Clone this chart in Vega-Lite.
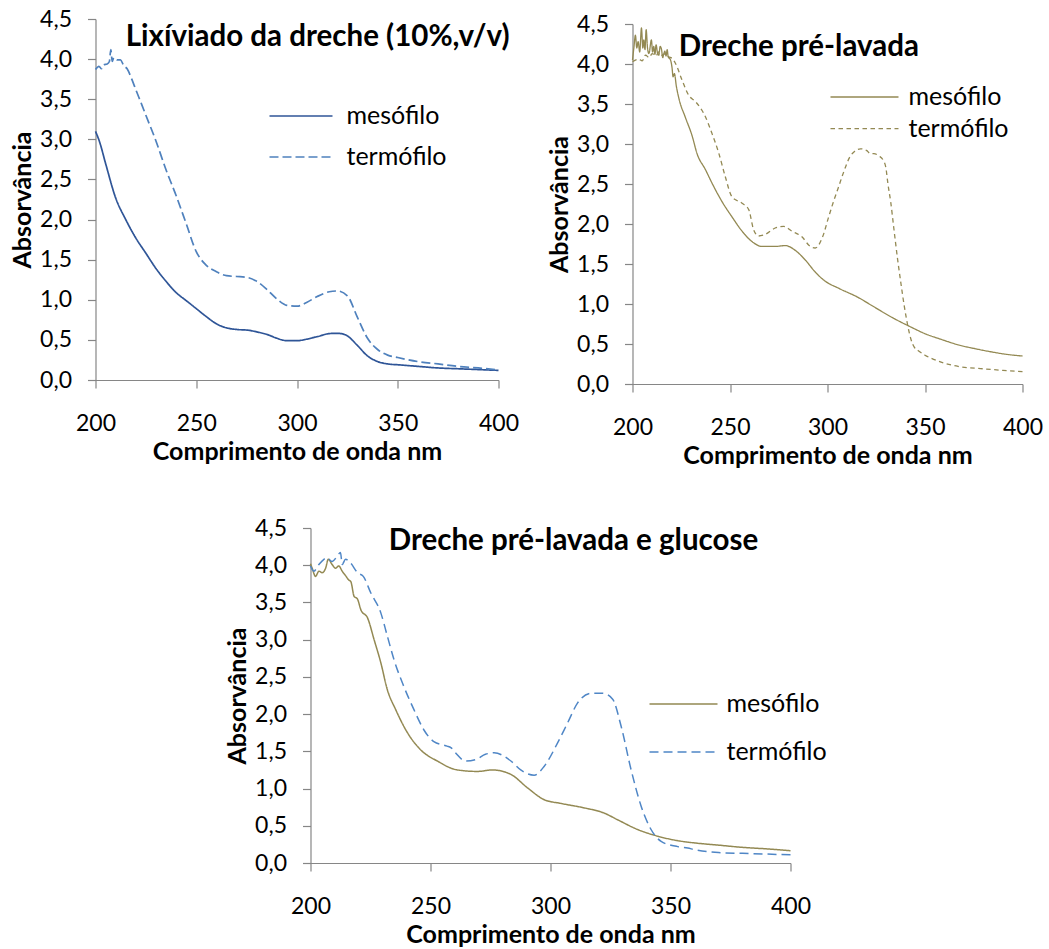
{
  "$schema": "https://vega.github.io/schema/vega-lite/v6.json",
  "background": "white",
  "padding": {"left": 10, "top": 8, "right": 5, "bottom": 0},
  "config": {
    "locale": {"number": {"decimal": ",", "thousands": ".", "grouping": [3], "currency": ["", " €"]}},
    "font": "Lato",
    "view": {"stroke": null},
    "axis": {
      "grid": false,
      "domainColor": "#868686",
      "domainWidth": 1.2,
      "tickColor": "#868686",
      "tickWidth": 1.2,
      "tickSize": 8,
      "labelFont": "Lato",
      "labelFontSize": 23,
      "labelColor": "#000000",
      "labelFlush": false,
      "labelOverlap": false,
      "titleFont": "Lato",
      "titleFontWeight": "bold",
      "titleFontSize": 25,
      "titleColor": "#000000"
    },
    "axisX": {"labelPadding": 24, "titlePadding": 4},
    "axisY": {"labelPadding": 16, "titlePadding": 4},
    "legend": {
      "orient": "none",
      "symbolType": "stroke",
      "labelFont": "Lato",
      "labelFontSize": 25,
      "labelColor": "#000000",
      "title": null,
      "padding": 0,
      "clipHeight": 30
    }
  },
  "datasets": {
    "lixiviado": [
      {"nm": 200, "serie": "mesófilo", "abs": 3.10},
      {"nm": 202, "serie": "mesófilo", "abs": 2.97},
      {"nm": 205, "serie": "mesófilo", "abs": 2.70},
      {"nm": 210, "serie": "mesófilo", "abs": 2.27},
      {"nm": 215, "serie": "mesófilo", "abs": 2.00},
      {"nm": 220, "serie": "mesófilo", "abs": 1.77},
      {"nm": 225, "serie": "mesófilo", "abs": 1.58},
      {"nm": 230, "serie": "mesófilo", "abs": 1.39},
      {"nm": 235, "serie": "mesófilo", "abs": 1.23},
      {"nm": 240, "serie": "mesófilo", "abs": 1.09},
      {"nm": 245, "serie": "mesófilo", "abs": 0.99},
      {"nm": 250, "serie": "mesófilo", "abs": 0.89},
      {"nm": 255, "serie": "mesófilo", "abs": 0.79},
      {"nm": 260, "serie": "mesófilo", "abs": 0.70},
      {"nm": 265, "serie": "mesófilo", "abs": 0.65},
      {"nm": 270, "serie": "mesófilo", "abs": 0.63},
      {"nm": 276, "serie": "mesófilo", "abs": 0.62},
      {"nm": 280, "serie": "mesófilo", "abs": 0.60},
      {"nm": 286, "serie": "mesófilo", "abs": 0.56},
      {"nm": 290, "serie": "mesófilo", "abs": 0.52},
      {"nm": 295, "serie": "mesófilo", "abs": 0.49},
      {"nm": 300, "serie": "mesófilo", "abs": 0.49},
      {"nm": 305, "serie": "mesófilo", "abs": 0.51},
      {"nm": 310, "serie": "mesófilo", "abs": 0.54},
      {"nm": 317, "serie": "mesófilo", "abs": 0.58},
      {"nm": 321, "serie": "mesófilo", "abs": 0.58},
      {"nm": 325, "serie": "mesófilo", "abs": 0.55},
      {"nm": 330, "serie": "mesófilo", "abs": 0.43},
      {"nm": 335, "serie": "mesófilo", "abs": 0.30},
      {"nm": 340, "serie": "mesófilo", "abs": 0.23},
      {"nm": 345, "serie": "mesófilo", "abs": 0.20},
      {"nm": 350, "serie": "mesófilo", "abs": 0.19},
      {"nm": 360, "serie": "mesófilo", "abs": 0.17},
      {"nm": 370, "serie": "mesófilo", "abs": 0.15},
      {"nm": 380, "serie": "mesófilo", "abs": 0.14},
      {"nm": 390, "serie": "mesófilo", "abs": 0.13},
      {"nm": 400, "serie": "mesófilo", "abs": 0.12},
      {"nm": 200, "serie": "termófilo", "abs": 3.87},
      {"nm": 201.7, "serie": "termófilo", "abs": 3.91},
      {"nm": 203, "serie": "termófilo", "abs": 3.88},
      {"nm": 204.1, "serie": "termófilo", "abs": 3.93},
      {"nm": 205.8, "serie": "termófilo", "abs": 3.94},
      {"nm": 206.9, "serie": "termófilo", "abs": 3.97},
      {"nm": 207.6, "serie": "termófilo", "abs": 4.12},
      {"nm": 208.3, "serie": "termófilo", "abs": 3.97},
      {"nm": 209.1, "serie": "termófilo", "abs": 4.02},
      {"nm": 210.7, "serie": "termófilo", "abs": 3.99},
      {"nm": 212.4, "serie": "termófilo", "abs": 3.99},
      {"nm": 214, "serie": "termófilo", "abs": 3.92},
      {"nm": 215.7, "serie": "termófilo", "abs": 3.88},
      {"nm": 218, "serie": "termófilo", "abs": 3.75},
      {"nm": 220, "serie": "termófilo", "abs": 3.62},
      {"nm": 223, "serie": "termófilo", "abs": 3.43},
      {"nm": 225, "serie": "termófilo", "abs": 3.30},
      {"nm": 230, "serie": "termófilo", "abs": 2.98},
      {"nm": 235, "serie": "termófilo", "abs": 2.62},
      {"nm": 240, "serie": "termófilo", "abs": 2.30},
      {"nm": 245, "serie": "termófilo", "abs": 1.95},
      {"nm": 250, "serie": "termófilo", "abs": 1.60},
      {"nm": 255, "serie": "termófilo", "abs": 1.43},
      {"nm": 260, "serie": "termófilo", "abs": 1.35},
      {"nm": 265, "serie": "termófilo", "abs": 1.30},
      {"nm": 270, "serie": "termófilo", "abs": 1.29},
      {"nm": 275, "serie": "termófilo", "abs": 1.28},
      {"nm": 280, "serie": "termófilo", "abs": 1.23},
      {"nm": 285, "serie": "termófilo", "abs": 1.13},
      {"nm": 290, "serie": "termófilo", "abs": 1.01},
      {"nm": 295, "serie": "termófilo", "abs": 0.93},
      {"nm": 300, "serie": "termófilo", "abs": 0.92},
      {"nm": 305, "serie": "termófilo", "abs": 0.97},
      {"nm": 310, "serie": "termófilo", "abs": 1.04},
      {"nm": 316, "serie": "termófilo", "abs": 1.10},
      {"nm": 320, "serie": "termófilo", "abs": 1.11},
      {"nm": 325, "serie": "termófilo", "abs": 1.05},
      {"nm": 330, "serie": "termófilo", "abs": 0.78},
      {"nm": 335, "serie": "termófilo", "abs": 0.52},
      {"nm": 340, "serie": "termófilo", "abs": 0.38},
      {"nm": 345, "serie": "termófilo", "abs": 0.31},
      {"nm": 350, "serie": "termófilo", "abs": 0.28},
      {"nm": 360, "serie": "termófilo", "abs": 0.23},
      {"nm": 370, "serie": "termófilo", "abs": 0.20},
      {"nm": 380, "serie": "termófilo", "abs": 0.17},
      {"nm": 390, "serie": "termófilo", "abs": 0.15},
      {"nm": 400, "serie": "termófilo", "abs": 0.125}
    ],
    "prelavada": [
      {"nm": 200, "serie": "mesófilo", "abs": 4.05},
      {"nm": 200.7, "serie": "mesófilo", "abs": 4.20},
      {"nm": 201.5, "serie": "mesófilo", "abs": 4.36},
      {"nm": 202.2, "serie": "mesófilo", "abs": 4.20},
      {"nm": 202.9, "serie": "mesófilo", "abs": 4.28},
      {"nm": 203.7, "serie": "mesófilo", "abs": 4.15},
      {"nm": 204.6, "serie": "mesófilo", "abs": 4.45},
      {"nm": 205.3, "serie": "mesófilo", "abs": 4.20},
      {"nm": 205.8, "serie": "mesófilo", "abs": 4.30},
      {"nm": 206.4, "serie": "mesófilo", "abs": 4.18},
      {"nm": 207, "serie": "mesófilo", "abs": 4.43},
      {"nm": 207.7, "serie": "mesófilo", "abs": 4.20},
      {"nm": 208.4, "serie": "mesófilo", "abs": 4.13},
      {"nm": 209.7, "serie": "mesófilo", "abs": 4.30},
      {"nm": 210.3, "serie": "mesófilo", "abs": 4.15},
      {"nm": 210.9, "serie": "mesófilo", "abs": 4.22},
      {"nm": 211.5, "serie": "mesófilo", "abs": 4.12},
      {"nm": 212.1, "serie": "mesófilo", "abs": 4.24},
      {"nm": 212.8, "serie": "mesófilo", "abs": 4.14},
      {"nm": 213.5, "serie": "mesófilo", "abs": 4.11},
      {"nm": 214.2, "serie": "mesófilo", "abs": 4.22},
      {"nm": 214.9, "serie": "mesófilo", "abs": 4.18},
      {"nm": 215.5, "serie": "mesófilo", "abs": 4.08},
      {"nm": 216, "serie": "mesófilo", "abs": 4.12},
      {"nm": 216.6, "serie": "mesófilo", "abs": 4.16},
      {"nm": 217.2, "serie": "mesófilo", "abs": 4.10},
      {"nm": 217.8, "serie": "mesófilo", "abs": 4.18},
      {"nm": 218.3, "serie": "mesófilo", "abs": 4.09},
      {"nm": 219.5, "serie": "mesófilo", "abs": 4.05},
      {"nm": 220.3, "serie": "mesófilo", "abs": 3.95},
      {"nm": 220.8, "serie": "mesófilo", "abs": 3.84},
      {"nm": 221.5, "serie": "mesófilo", "abs": 3.88},
      {"nm": 222.5, "serie": "mesófilo", "abs": 3.72},
      {"nm": 224, "serie": "mesófilo", "abs": 3.55},
      {"nm": 227, "serie": "mesófilo", "abs": 3.34},
      {"nm": 230.6, "serie": "mesófilo", "abs": 3.10},
      {"nm": 233.1, "serie": "mesófilo", "abs": 2.88},
      {"nm": 237.4, "serie": "mesófilo", "abs": 2.68},
      {"nm": 240.8, "serie": "mesófilo", "abs": 2.51},
      {"nm": 245.9, "serie": "mesófilo", "abs": 2.28},
      {"nm": 251, "serie": "mesófilo", "abs": 2.09},
      {"nm": 256.2, "serie": "mesófilo", "abs": 1.91},
      {"nm": 261.3, "serie": "mesófilo", "abs": 1.78},
      {"nm": 266.4, "serie": "mesófilo", "abs": 1.72},
      {"nm": 273.2, "serie": "mesófilo", "abs": 1.72},
      {"nm": 278.3, "serie": "mesófilo", "abs": 1.73},
      {"nm": 283.5, "serie": "mesófilo", "abs": 1.67},
      {"nm": 288.6, "serie": "mesófilo", "abs": 1.55},
      {"nm": 293.7, "serie": "mesófilo", "abs": 1.40},
      {"nm": 298, "serie": "mesófilo", "abs": 1.30},
      {"nm": 306.3, "serie": "mesófilo", "abs": 1.19},
      {"nm": 315.1, "serie": "mesófilo", "abs": 1.09},
      {"nm": 323.8, "serie": "mesófilo", "abs": 0.965},
      {"nm": 332.5, "serie": "mesófilo", "abs": 0.84},
      {"nm": 342.5, "serie": "mesófilo", "abs": 0.715},
      {"nm": 349.9, "serie": "mesófilo", "abs": 0.63},
      {"nm": 358, "serie": "mesófilo", "abs": 0.56},
      {"nm": 367, "serie": "mesófilo", "abs": 0.49},
      {"nm": 376, "serie": "mesófilo", "abs": 0.44},
      {"nm": 384.4, "serie": "mesófilo", "abs": 0.40},
      {"nm": 392, "serie": "mesófilo", "abs": 0.37},
      {"nm": 400, "serie": "mesófilo", "abs": 0.35},
      {"nm": 200, "serie": "termófilo", "abs": 4.03},
      {"nm": 203.2, "serie": "termófilo", "abs": 4.06},
      {"nm": 205, "serie": "termófilo", "abs": 4.04},
      {"nm": 206.7, "serie": "termófilo", "abs": 4.11},
      {"nm": 208.5, "serie": "termófilo", "abs": 4.08},
      {"nm": 210.1, "serie": "termófilo", "abs": 4.13},
      {"nm": 212, "serie": "termófilo", "abs": 4.10},
      {"nm": 213.5, "serie": "termófilo", "abs": 4.15},
      {"nm": 215, "serie": "termófilo", "abs": 4.11},
      {"nm": 216.9, "serie": "termófilo", "abs": 4.13},
      {"nm": 218.5, "serie": "termófilo", "abs": 4.09},
      {"nm": 220.3, "serie": "termófilo", "abs": 4.07},
      {"nm": 222, "serie": "termófilo", "abs": 4.01},
      {"nm": 225.4, "serie": "termófilo", "abs": 3.80},
      {"nm": 228.8, "serie": "termófilo", "abs": 3.61},
      {"nm": 232.3, "serie": "termófilo", "abs": 3.53},
      {"nm": 237.4, "serie": "termófilo", "abs": 3.34},
      {"nm": 240.8, "serie": "termófilo", "abs": 3.13},
      {"nm": 244.2, "serie": "termófilo", "abs": 2.89},
      {"nm": 247.6, "serie": "termófilo", "abs": 2.59},
      {"nm": 251, "serie": "termófilo", "abs": 2.34},
      {"nm": 256.2, "serie": "termófilo", "abs": 2.26},
      {"nm": 259.6, "serie": "termófilo", "abs": 2.18},
      {"nm": 262.1, "serie": "termófilo", "abs": 1.93},
      {"nm": 264.7, "serie": "termófilo", "abs": 1.85},
      {"nm": 268.1, "serie": "termófilo", "abs": 1.87},
      {"nm": 273.2, "serie": "termófilo", "abs": 1.95},
      {"nm": 277.5, "serie": "termófilo", "abs": 1.97},
      {"nm": 281.8, "serie": "termófilo", "abs": 1.91},
      {"nm": 286.9, "serie": "termófilo", "abs": 1.84},
      {"nm": 291.1, "serie": "termófilo", "abs": 1.72},
      {"nm": 293.7, "serie": "termófilo", "abs": 1.70},
      {"nm": 297.5, "serie": "termófilo", "abs": 1.84},
      {"nm": 300.5, "serie": "termófilo", "abs": 2.08},
      {"nm": 302.8, "serie": "termófilo", "abs": 2.26},
      {"nm": 305.5, "serie": "termófilo", "abs": 2.45},
      {"nm": 308, "serie": "termófilo", "abs": 2.63},
      {"nm": 311.5, "serie": "termófilo", "abs": 2.84},
      {"nm": 314, "serie": "termófilo", "abs": 2.91},
      {"nm": 316.9, "serie": "termófilo", "abs": 2.94},
      {"nm": 320, "serie": "termófilo", "abs": 2.92},
      {"nm": 322, "serie": "termófilo", "abs": 2.88},
      {"nm": 323.8, "serie": "termófilo", "abs": 2.88},
      {"nm": 326.4, "serie": "termófilo", "abs": 2.85},
      {"nm": 328.5, "serie": "termófilo", "abs": 2.80},
      {"nm": 329.9, "serie": "termófilo", "abs": 2.71},
      {"nm": 331, "serie": "termófilo", "abs": 2.50},
      {"nm": 332.5, "serie": "termófilo", "abs": 2.26},
      {"nm": 334, "serie": "termófilo", "abs": 1.95},
      {"nm": 336, "serie": "termófilo", "abs": 1.55},
      {"nm": 337.7, "serie": "termófilo", "abs": 1.25},
      {"nm": 339.4, "serie": "termófilo", "abs": 0.97},
      {"nm": 341, "serie": "termófilo", "abs": 0.75},
      {"nm": 342.9, "serie": "termófilo", "abs": 0.55},
      {"nm": 344.5, "serie": "termófilo", "abs": 0.46},
      {"nm": 346.4, "serie": "termófilo", "abs": 0.42},
      {"nm": 350, "serie": "termófilo", "abs": 0.36},
      {"nm": 353.3, "serie": "termófilo", "abs": 0.32},
      {"nm": 360, "serie": "termófilo", "abs": 0.26},
      {"nm": 367, "serie": "termófilo", "abs": 0.22},
      {"nm": 380, "serie": "termófilo", "abs": 0.19},
      {"nm": 390, "serie": "termófilo", "abs": 0.17},
      {"nm": 400, "serie": "termófilo", "abs": 0.155}
    ],
    "glucose": [
      {"nm": 200, "serie": "mesófilo", "abs": 4.02},
      {"nm": 200.7, "serie": "mesófilo", "abs": 3.96},
      {"nm": 202.1, "serie": "mesófilo", "abs": 3.85},
      {"nm": 203.5, "serie": "mesófilo", "abs": 3.92},
      {"nm": 204.9, "serie": "mesófilo", "abs": 3.90},
      {"nm": 206.3, "serie": "mesófilo", "abs": 3.96},
      {"nm": 207.4, "serie": "mesófilo", "abs": 4.08},
      {"nm": 209, "serie": "mesófilo", "abs": 4.01},
      {"nm": 210.4, "serie": "mesófilo", "abs": 3.96},
      {"nm": 211.8, "serie": "mesófilo", "abs": 3.99},
      {"nm": 213.2, "serie": "mesófilo", "abs": 3.92},
      {"nm": 214.6, "serie": "mesófilo", "abs": 3.86},
      {"nm": 216, "serie": "mesófilo", "abs": 3.80},
      {"nm": 216.8, "serie": "mesófilo", "abs": 3.78},
      {"nm": 218.2, "serie": "mesófilo", "abs": 3.58},
      {"nm": 219.5, "serie": "mesófilo", "abs": 3.55},
      {"nm": 221, "serie": "mesófilo", "abs": 3.40},
      {"nm": 223.8, "serie": "mesófilo", "abs": 3.29},
      {"nm": 226.5, "serie": "mesófilo", "abs": 3.00},
      {"nm": 229.3, "serie": "mesófilo", "abs": 2.69},
      {"nm": 232, "serie": "mesófilo", "abs": 2.33},
      {"nm": 235.5, "serie": "mesófilo", "abs": 2.06},
      {"nm": 240.4, "serie": "mesófilo", "abs": 1.75},
      {"nm": 245.9, "serie": "mesófilo", "abs": 1.52},
      {"nm": 252.8, "serie": "mesófilo", "abs": 1.37},
      {"nm": 261.2, "serie": "mesófilo", "abs": 1.25},
      {"nm": 269.6, "serie": "mesófilo", "abs": 1.23},
      {"nm": 275.8, "serie": "mesófilo", "abs": 1.25},
      {"nm": 283.5, "serie": "mesófilo", "abs": 1.19},
      {"nm": 290.4, "serie": "mesófilo", "abs": 1.01},
      {"nm": 297.4, "serie": "mesófilo", "abs": 0.85},
      {"nm": 304.4, "serie": "mesófilo", "abs": 0.80},
      {"nm": 314.1, "serie": "mesófilo", "abs": 0.74},
      {"nm": 322.4, "serie": "mesófilo", "abs": 0.67},
      {"nm": 328, "serie": "mesófilo", "abs": 0.58},
      {"nm": 336.3, "serie": "mesófilo", "abs": 0.45},
      {"nm": 344.7, "serie": "mesófilo", "abs": 0.36},
      {"nm": 353, "serie": "mesófilo", "abs": 0.30},
      {"nm": 360, "serie": "mesófilo", "abs": 0.27},
      {"nm": 370, "serie": "mesófilo", "abs": 0.24},
      {"nm": 380, "serie": "mesófilo", "abs": 0.21},
      {"nm": 390, "serie": "mesófilo", "abs": 0.19},
      {"nm": 400, "serie": "mesófilo", "abs": 0.165},
      {"nm": 200, "serie": "termófilo", "abs": 3.99},
      {"nm": 201.4, "serie": "termófilo", "abs": 3.92},
      {"nm": 203.5, "serie": "termófilo", "abs": 4.01},
      {"nm": 205.6, "serie": "termófilo", "abs": 4.08},
      {"nm": 206.9, "serie": "termófilo", "abs": 4.10},
      {"nm": 209, "serie": "termófilo", "abs": 4.05},
      {"nm": 211.1, "serie": "termófilo", "abs": 4.12},
      {"nm": 212.5, "serie": "termófilo", "abs": 4.17},
      {"nm": 213.2, "serie": "termófilo", "abs": 4.01},
      {"nm": 214.6, "serie": "termófilo", "abs": 4.08},
      {"nm": 216.7, "serie": "termófilo", "abs": 4.03},
      {"nm": 219.6, "serie": "termófilo", "abs": 3.90},
      {"nm": 222, "serie": "termófilo", "abs": 3.85},
      {"nm": 225.1, "serie": "termófilo", "abs": 3.63},
      {"nm": 229.3, "serie": "termófilo", "abs": 3.36},
      {"nm": 232, "serie": "termófilo", "abs": 3.05},
      {"nm": 234.8, "serie": "termófilo", "abs": 2.73},
      {"nm": 238.9, "serie": "termófilo", "abs": 2.37},
      {"nm": 243.1, "serie": "termófilo", "abs": 2.06},
      {"nm": 247.2, "serie": "termófilo", "abs": 1.79},
      {"nm": 251.4, "serie": "termófilo", "abs": 1.63},
      {"nm": 256.9, "serie": "termófilo", "abs": 1.57},
      {"nm": 258.5, "serie": "termófilo", "abs": 1.55},
      {"nm": 260.4, "serie": "termófilo", "abs": 1.48},
      {"nm": 264.6, "serie": "termófilo", "abs": 1.37},
      {"nm": 268.8, "serie": "termófilo", "abs": 1.39},
      {"nm": 272.9, "serie": "termófilo", "abs": 1.46},
      {"nm": 276.5, "serie": "termófilo", "abs": 1.48},
      {"nm": 283.5, "serie": "termófilo", "abs": 1.37},
      {"nm": 287.6, "serie": "termófilo", "abs": 1.25},
      {"nm": 293.2, "serie": "termófilo", "abs": 1.18},
      {"nm": 297.4, "serie": "termófilo", "abs": 1.30},
      {"nm": 302.9, "serie": "termófilo", "abs": 1.61},
      {"nm": 307.1, "serie": "termófilo", "abs": 1.88},
      {"nm": 311.3, "serie": "termófilo", "abs": 2.15},
      {"nm": 316.9, "serie": "termófilo", "abs": 2.28},
      {"nm": 321.7, "serie": "termófilo", "abs": 2.28},
      {"nm": 325.9, "serie": "termófilo", "abs": 2.20},
      {"nm": 329.4, "serie": "termófilo", "abs": 1.84},
      {"nm": 333.6, "serie": "termófilo", "abs": 1.25},
      {"nm": 337.8, "serie": "termófilo", "abs": 0.76},
      {"nm": 341.9, "serie": "termófilo", "abs": 0.45},
      {"nm": 346.1, "serie": "termófilo", "abs": 0.29},
      {"nm": 353, "serie": "termófilo", "abs": 0.22},
      {"nm": 357.2, "serie": "termófilo", "abs": 0.20},
      {"nm": 360, "serie": "termófilo", "abs": 0.18},
      {"nm": 370, "serie": "termófilo", "abs": 0.14},
      {"nm": 380, "serie": "termófilo", "abs": 0.13},
      {"nm": 390, "serie": "termófilo", "abs": 0.12},
      {"nm": 400, "serie": "termófilo", "abs": 0.11}
    ]
  },
  "spacing": 49,
  "center": true,
  "resolve": {
    "scale": {"color": "independent", "strokeDash": "independent"},
    "legend": {"color": "independent", "strokeDash": "independent"}
  },
  "vconcat": [
    {
      "spacing": 28,
      "resolve": {
        "scale": {"color": "independent", "strokeDash": "independent"},
        "legend": {"color": "independent", "strokeDash": "independent"}
      },
      "hconcat": [
        {
          "width": 403,
          "height": 361,
          "layer": [
            {
              "data": {"name": "lixiviado"},
              "mark": {"type": "line", "strokeWidth": 1.7, "interpolate": "monotone"},
              "encoding": {
                "x": {"field": "nm", "type": "quantitative", "scale": {"domain": [200, 400], "nice": false, "zero": false}, "axis": {"values": [200, 250, 300, 350, 400], "title": "Comprimento de onda nm"}},
                "y": {"field": "abs", "type": "quantitative", "scale": {"domain": [0, 4.5], "nice": false}, "axis": {"values": [0, 0.5, 1, 1.5, 2, 2.5, 3, 3.5, 4, 4.5], "format": ".1f", "title": "Absorvância"}},
                "color": {"field": "serie", "type": "nominal", "scale": {"domain": ["mesófilo", "termófilo"], "range": ["#2F5597", "#4F81BD"]}, "legend": {"legendX": 173, "legendY": 82, "symbolSize": 3969, "symbolStrokeWidth": 1.7, "labelOffset": 13, "rowPadding": 11}},
                "strokeDash": {"field": "serie", "type": "nominal", "scale": {"domain": ["mesófilo", "termófilo"], "range": [[1, 0], [9, 4]]}}
              }
            },
            {
              "data": {"values": [{"titulo": "Lixíviado da dreche (10%,v/v)"}]},
              "mark": {"type": "text", "align": "left", "baseline": "alphabetic", "fontSize": 29.5, "fontWeight": "bold", "color": "#000000"},
              "encoding": {
                "x": {"datum": 215, "type": "quantitative", "axis": {"values": [200, 250, 300, 350, 400], "title": "Comprimento de onda nm"}},
                "y": {"datum": 4.16, "type": "quantitative", "axis": {"values": [0, 0.5, 1, 1.5, 2, 2.5, 3, 3.5, 4, 4.5], "format": ".1f", "title": "Absorvância"}},
                "text": {"field": "titulo"}
              }
            }
          ]
        },
        {
          "width": 390,
          "height": 365,
          "layer": [
            {
              "data": {"name": "prelavada"},
              "mark": {"type": "line", "strokeWidth": 1.3, "interpolate": "monotone"},
              "encoding": {
                "x": {"field": "nm", "type": "quantitative", "scale": {"domain": [200, 400], "nice": false, "zero": false}, "axis": {"values": [200, 250, 300, 350, 400], "title": "Comprimento de onda nm"}},
                "y": {"field": "abs", "type": "quantitative", "scale": {"domain": [0, 4.5], "nice": false, "range": [365, 5]}, "axis": {"values": [0, 0.5, 1, 1.5, 2, 2.5, 3, 3.5, 4, 4.5], "format": ".1f", "title": "Absorvância"}},
                "color": {"field": "serie", "type": "nominal", "scale": {"domain": ["mesófilo", "termófilo"], "range": ["#938953", "#938953"]}, "legend": {"legendX": 197, "legendY": 63, "symbolSize": 4624, "symbolStrokeWidth": 1.3, "labelOffset": 9, "rowPadding": 1.6}},
                "strokeDash": {"field": "serie", "type": "nominal", "scale": {"domain": ["mesófilo", "termófilo"], "range": [[1, 0], [4.5, 3.5]]}}
              }
            },
            {
              "data": {"values": [{"titulo": "Dreche pré-lavada"}]},
              "mark": {"type": "text", "align": "left", "baseline": "alphabetic", "fontSize": 29.5, "fontWeight": "bold", "color": "#000000"},
              "encoding": {
                "x": {"datum": 223.7, "type": "quantitative", "axis": {"values": [200, 250, 300, 350, 400], "title": "Comprimento de onda nm"}},
                "y": {"datum": 4.1, "type": "quantitative", "axis": {"values": [0, 0.5, 1, 1.5, 2, 2.5, 3, 3.5, 4, 4.5], "format": ".1f", "title": "Absorvância"}},
                "text": {"field": "titulo"}
              }
            }
          ]
        }
      ]
    },
    {
      "width": 480,
      "height": 335,
      "layer": [
        {
          "data": {"name": "glucose"},
          "mark": {"type": "line", "strokeWidth": 1.5, "interpolate": "monotone"},
          "encoding": {
            "x": {"field": "nm", "type": "quantitative", "scale": {"domain": [200, 400], "nice": false, "zero": false}, "axis": {"values": [200, 250, 300, 350, 400], "title": "Comprimento de onda nm"}},
            "y": {"field": "abs", "type": "quantitative", "scale": {"domain": [0, 4.5], "nice": false}, "axis": {"values": [0, 0.5, 1, 1.5, 2, 2.5, 3, 3.5, 4, 4.5], "format": ".1f", "title": "Absorvância"}},
            "color": {"field": "serie", "type": "nominal", "scale": {"domain": ["mesófilo", "termófilo"], "range": ["#938953", "#4F86C6"]}, "legend": {"legendX": 338, "legendY": 161, "symbolSize": 4624, "symbolStrokeWidth": 1.5, "labelOffset": 8, "rowPadding": 18}},
            "strokeDash": {"field": "serie", "type": "nominal", "scale": {"domain": ["mesófilo", "termófilo"], "range": [[1, 0], [9, 5]]}}
          }
        },
        {
          "data": {"values": [{"titulo": "Dreche pré-lavada e glucose"}]},
          "mark": {"type": "text", "align": "left", "baseline": "alphabetic", "fontSize": 29.5, "fontWeight": "bold", "color": "#000000"},
          "encoding": {
            "x": {"datum": 232.6, "type": "quantitative", "axis": {"values": [200, 250, 300, 350, 400], "title": "Comprimento de onda nm"}},
            "y": {"datum": 4.2, "type": "quantitative", "axis": {"values": [0, 0.5, 1, 1.5, 2, 2.5, 3, 3.5, 4, 4.5], "format": ".1f", "title": "Absorvância"}},
            "text": {"field": "titulo"}
          }
        }
      ]
    }
  ]
}
